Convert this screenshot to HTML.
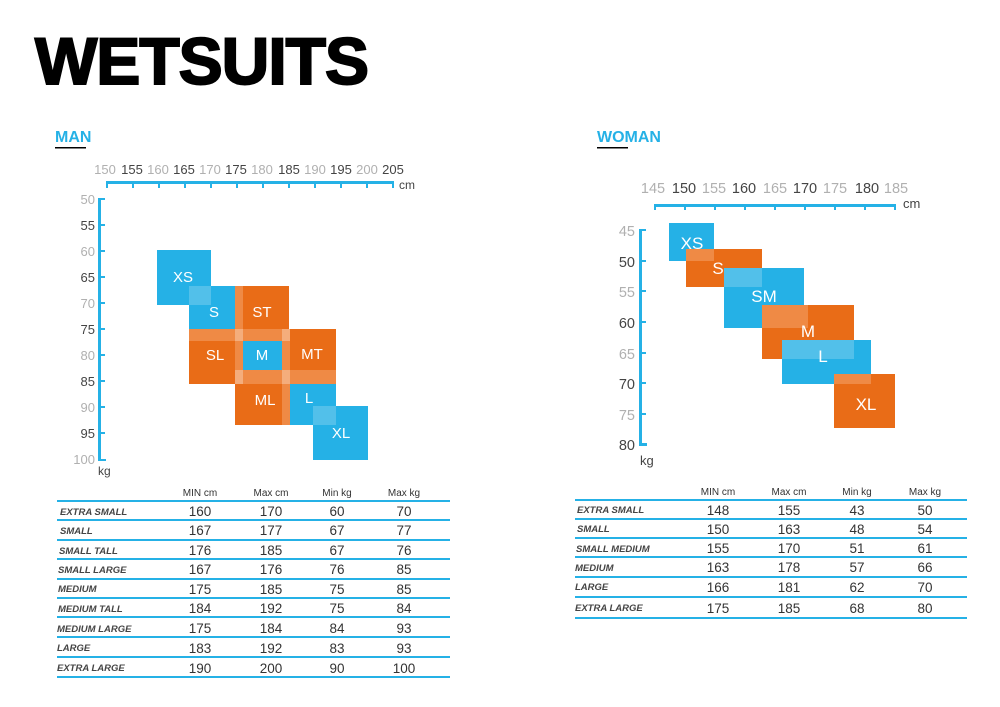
<!DOCTYPE html>
<html><head><meta charset="utf-8"><style>
body{margin:0;background:#fff;}
svg{display:block;font-family:"Liberation Sans",sans-serif;}
.g{fill:#b0b0b0}.d{fill:#444}
.w{fill:#fff;font-size:15px;text-anchor:middle}
.n{font-size:13.5px;fill:#333;text-anchor:middle}
.h{font-size:10px;fill:#333;text-anchor:middle}
.nm{font-size:9.5px;fill:#444;font-style:italic;font-weight:bold}
</style></head><body>
<svg width="1000" height="707" viewBox="0 0 1000 707" xmlns="http://www.w3.org/2000/svg">
<text x="35" y="84" font-size="66" font-weight="bold" fill="#000" transform="scale(1,1)" style="letter-spacing:-1px" stroke="#000" stroke-width="2">WETSUITS</text>

<text x="55" y="142" font-size="16" font-weight="bold" fill="#25b1e6">MAN</text>
<rect x="55" y="147" width="31" height="1.5" fill="#000"/>
<text x="597" y="142" font-size="16" font-weight="bold" fill="#25b1e6">WOMAN</text>
<rect x="597" y="147" width="31" height="1.5" fill="#000"/>

<!-- MAN axes -->
<g fill="#25b1e6">
<rect x="106" y="181" width="288" height="3"/>
<rect x="98" y="198" width="3" height="263"/>
<rect x="98" y="459" width="8" height="2"/>
</g>
<g id="mxt" stroke="#25b1e6" stroke-width="2">
<line x1="107" y1="183" x2="107" y2="188"/><line x1="133" y1="183" x2="133" y2="188"/><line x1="159" y1="183" x2="159" y2="188"/><line x1="185" y1="183" x2="185" y2="188"/><line x1="211" y1="183" x2="211" y2="188"/><line x1="237" y1="183" x2="237" y2="188"/><line x1="263" y1="183" x2="263" y2="188"/><line x1="289" y1="183" x2="289" y2="188"/><line x1="315" y1="183" x2="315" y2="188"/><line x1="341" y1="183" x2="341" y2="188"/><line x1="367" y1="183" x2="367" y2="188"/><line x1="393" y1="183" x2="393" y2="188"/>
<line x1="99" y1="199" x2="105" y2="199"/><line x1="99" y1="225" x2="105" y2="225"/><line x1="99" y1="251" x2="105" y2="251"/><line x1="99" y1="277" x2="105" y2="277"/><line x1="99" y1="303" x2="105" y2="303"/><line x1="99" y1="329" x2="105" y2="329"/><line x1="99" y1="355" x2="105" y2="355"/><line x1="99" y1="381" x2="105" y2="381"/><line x1="99" y1="407" x2="105" y2="407"/><line x1="99" y1="433" x2="105" y2="433"/>
</g>
<g font-size="13" text-anchor="middle">
<text x="105" y="174" class="g">150</text><text x="132" y="174" class="d">155</text><text x="158" y="174" class="g">160</text><text x="184" y="174" class="d">165</text><text x="210" y="174" class="g">170</text><text x="236" y="174" class="d">175</text><text x="262" y="174" class="g">180</text><text x="289" y="174" class="d">185</text><text x="315" y="174" class="g">190</text><text x="341" y="174" class="d">195</text><text x="367" y="174" class="g">200</text><text x="393" y="174" class="d">205</text>
</g>
<text x="399" y="189" font-size="12" class="d">cm</text>
<g font-size="13" text-anchor="end">
<text x="95" y="204" class="g">50</text><text x="95" y="230" class="d">55</text><text x="95" y="256" class="g">60</text><text x="95" y="282" class="d">65</text><text x="95" y="308" class="g">70</text><text x="95" y="334" class="d">75</text><text x="95" y="360" class="g">80</text><text x="95" y="386" class="d">85</text><text x="95" y="412" class="g">90</text><text x="95" y="438" class="d">95</text><text x="95" y="464" class="g">100</text>
</g>
<text x="98" y="475" font-size="12" class="d">kg</text>

<!-- MAN boxes -->
<g>
<rect x="157" y="250" width="54" height="55" fill="#25b1e6"/>
<rect x="189" y="286" width="46" height="43" fill="#25b1e6"/>
<rect x="189" y="286" width="22" height="19" fill="#52c0ea"/>
<rect x="235" y="286" width="54" height="43" fill="#e96c17"/>
<rect x="235" y="286" width="8" height="43" fill="#ef8a45"/>
<rect x="189" y="329" width="46" height="55" fill="#e96c17"/>
<rect x="189" y="329" width="46" height="12" fill="#ef8a45"/>
<rect x="235" y="329" width="55" height="55" fill="#ef8a45"/>
<rect x="243" y="341" width="39" height="29" fill="#25b1e6"/>
<rect x="235" y="329" width="8" height="12" fill="#f4ad7c"/>
<rect x="282" y="329" width="8" height="12" fill="#f4ad7c"/>
<rect x="235" y="370" width="8" height="14" fill="#f4ad7c"/>
<rect x="282" y="370" width="8" height="14" fill="#f4ad7c"/>
<rect x="290" y="329" width="46" height="55" fill="#e96c17"/>
<rect x="290" y="370" width="46" height="14" fill="#ef8a45"/>
<rect x="235" y="384" width="55" height="41" fill="#e96c17"/>
<rect x="282" y="384" width="8" height="41" fill="#ef8a45"/>
<rect x="290" y="384" width="46" height="41" fill="#25b1e6"/>
<rect x="313" y="406" width="55" height="54" fill="#25b1e6"/>
<rect x="313" y="406" width="23" height="19" fill="#52c0ea"/>
</g>
<g class="w">
<text x="183" y="282">XS</text><text x="214" y="317">S</text><text x="262" y="317">ST</text><text x="215" y="360">SL</text><text x="262" y="360">M</text><text x="312" y="359">MT</text><text x="265" y="405">ML</text><text x="309" y="403">L</text><text x="341" y="438">XL</text>
</g>

<!-- WOMAN axes -->
<g fill="#25b1e6">
<rect x="654" y="204" width="242" height="3"/>
<rect x="639" y="229" width="3" height="217"/>
<rect x="639" y="443" width="8" height="3"/>
</g>
<g stroke="#25b1e6" stroke-width="2">
<line x1="655" y1="205" x2="655" y2="210"/><line x1="685" y1="205" x2="685" y2="210"/><line x1="715" y1="205" x2="715" y2="210"/><line x1="745" y1="205" x2="745" y2="210"/><line x1="775" y1="205" x2="775" y2="210"/><line x1="805" y1="205" x2="805" y2="210"/><line x1="835" y1="205" x2="835" y2="210"/><line x1="865" y1="205" x2="865" y2="210"/><line x1="895" y1="205" x2="895" y2="210"/>
<line x1="640" y1="230" x2="646" y2="230"/><line x1="640" y1="261" x2="646" y2="261"/><line x1="640" y1="291" x2="646" y2="291"/><line x1="640" y1="322" x2="646" y2="322"/><line x1="640" y1="353" x2="646" y2="353"/><line x1="640" y1="383" x2="646" y2="383"/><line x1="640" y1="414" x2="646" y2="414"/>
</g>
<g font-size="14.5" text-anchor="middle">
<text x="653" y="193" class="g">145</text><text x="684" y="193" class="d">150</text><text x="714" y="193" class="g">155</text><text x="744" y="193" class="d">160</text><text x="775" y="193" class="g">165</text><text x="805" y="193" class="d">170</text><text x="835" y="193" class="g">175</text><text x="867" y="193" class="d">180</text><text x="896" y="193" class="g">185</text>
</g>
<text x="903" y="208" font-size="13" class="d">cm</text>
<g font-size="14.5" text-anchor="end">
<text x="635" y="236" class="g">45</text><text x="635" y="267" class="d">50</text><text x="635" y="297" class="g">55</text><text x="635" y="328" class="d">60</text><text x="635" y="359" class="g">65</text><text x="635" y="389" class="d">70</text><text x="635" y="420" class="g">75</text><text x="635" y="450" class="d">80</text>
</g>
<text x="640" y="465" font-size="13" class="d">kg</text>

<g>
<rect x="669" y="223" width="45" height="38" fill="#25b1e6"/>
<rect x="686" y="249" width="76" height="38" fill="#e96c17"/>
<rect x="686" y="249" width="28" height="12" fill="#ef8a45"/>
<rect x="724" y="268" width="80" height="60" fill="#25b1e6"/>
<rect x="724" y="268" width="38" height="19" fill="#52c0ea"/>
<rect x="762" y="305" width="92" height="54" fill="#e96c17"/>
<rect x="762" y="305" width="46" height="23" fill="#ef8a45"/>
<rect x="782" y="340" width="89" height="44" fill="#25b1e6"/>
<rect x="782" y="340" width="72" height="19" fill="#52c0ea"/>
<rect x="834" y="374" width="61" height="54" fill="#e96c17"/>
<rect x="834" y="374" width="37" height="10" fill="#ef8a45"/>
</g>
<g class="w" font-size="17" style="font-size:17px">
<text x="692" y="249">XS</text><text x="718" y="274">S</text><text x="764" y="302">SM</text><text x="808" y="337">M</text><text x="823" y="362">L</text><text x="866" y="410">XL</text>
</g>

<!-- MAN table -->
<g class="h"><text x="200" y="496">MIN cm</text><text x="271" y="496">Max cm</text><text x="337" y="496">Min kg</text><text x="404" y="496">Max kg</text></g>
<g fill="#25b1e6">
<rect x="57" y="500" width="393" height="2"/><rect x="57" y="519" width="393" height="2"/><rect x="57" y="539" width="393" height="2"/><rect x="57" y="558" width="393" height="2"/><rect x="57" y="578" width="393" height="2"/><rect x="57" y="597" width="393" height="2"/><rect x="57" y="616" width="393" height="2"/><rect x="57" y="636" width="393" height="2"/><rect x="57" y="656" width="393" height="2"/><rect x="57" y="676" width="393" height="2"/>
</g>
<g>
<text x="60" y="515" class="nm">EXTRA SMALL</text><text x="200" y="516" class="n">160</text><text x="271" y="516" class="n">170</text><text x="337" y="516" class="n">60</text><text x="404" y="516" class="n">70</text>
<text x="60" y="534" class="nm">SMALL</text><text x="200" y="535" class="n">167</text><text x="271" y="535" class="n">177</text><text x="337" y="535" class="n">67</text><text x="404" y="535" class="n">77</text>
<text x="59" y="554" class="nm">SMALL TALL</text><text x="200" y="555" class="n">176</text><text x="271" y="555" class="n">185</text><text x="337" y="555" class="n">67</text><text x="404" y="555" class="n">76</text>
<text x="58" y="573" class="nm">SMALL LARGE</text><text x="200" y="574" class="n">167</text><text x="271" y="574" class="n">176</text><text x="337" y="574" class="n">76</text><text x="404" y="574" class="n">85</text>
<text x="58" y="592" class="nm">MEDIUM</text><text x="200" y="594" class="n">175</text><text x="271" y="594" class="n">185</text><text x="337" y="594" class="n">75</text><text x="404" y="594" class="n">85</text>
<text x="58" y="612" class="nm">MEDIUM TALL</text><text x="200" y="613" class="n">184</text><text x="271" y="613" class="n">192</text><text x="337" y="613" class="n">75</text><text x="404" y="613" class="n">84</text>
<text x="57" y="632" class="nm">MEDIUM LARGE</text><text x="200" y="633" class="n">175</text><text x="271" y="633" class="n">184</text><text x="337" y="633" class="n">84</text><text x="404" y="633" class="n">93</text>
<text x="57" y="651" class="nm">LARGE</text><text x="200" y="653" class="n">183</text><text x="271" y="653" class="n">192</text><text x="337" y="653" class="n">83</text><text x="404" y="653" class="n">93</text>
<text x="57" y="671" class="nm">EXTRA LARGE</text><text x="200" y="673" class="n">190</text><text x="271" y="673" class="n">200</text><text x="337" y="673" class="n">90</text><text x="404" y="673" class="n">100</text>
</g>

<!-- WOMAN table -->
<g class="h"><text x="718" y="495">MIN cm</text><text x="789" y="495">Max cm</text><text x="857" y="495">Min kg</text><text x="925" y="495">Max kg</text></g>
<g fill="#25b1e6">
<rect x="575" y="499" width="392" height="2"/><rect x="575" y="518" width="392" height="2"/><rect x="575" y="537" width="392" height="2"/><rect x="575" y="556" width="392" height="2"/><rect x="575" y="576" width="392" height="2"/><rect x="575" y="596" width="392" height="2"/><rect x="575" y="617" width="392" height="2"/>
</g>
<g>
<text x="577" y="513" class="nm">EXTRA SMALL</text><text x="718" y="515" class="n">148</text><text x="789" y="515" class="n">155</text><text x="857" y="515" class="n">43</text><text x="925" y="515" class="n">50</text>
<text x="577" y="532" class="nm">SMALL</text><text x="718" y="534" class="n">150</text><text x="789" y="534" class="n">163</text><text x="857" y="534" class="n">48</text><text x="925" y="534" class="n">54</text>
<text x="576" y="552" class="nm">SMALL MEDIUM</text><text x="718" y="553" class="n">155</text><text x="789" y="553" class="n">170</text><text x="857" y="553" class="n">51</text><text x="925" y="553" class="n">61</text>
<text x="575" y="571" class="nm">MEDIUM</text><text x="718" y="572" class="n">163</text><text x="789" y="572" class="n">178</text><text x="857" y="572" class="n">57</text><text x="925" y="572" class="n">66</text>
<text x="575" y="590" class="nm">LARGE</text><text x="718" y="592" class="n">166</text><text x="789" y="592" class="n">181</text><text x="857" y="592" class="n">62</text><text x="925" y="592" class="n">70</text>
<text x="575" y="611" class="nm">EXTRA LARGE</text><text x="718" y="613" class="n">175</text><text x="789" y="613" class="n">185</text><text x="857" y="613" class="n">68</text><text x="925" y="613" class="n">80</text>
</g>
</svg>
</body></html>
